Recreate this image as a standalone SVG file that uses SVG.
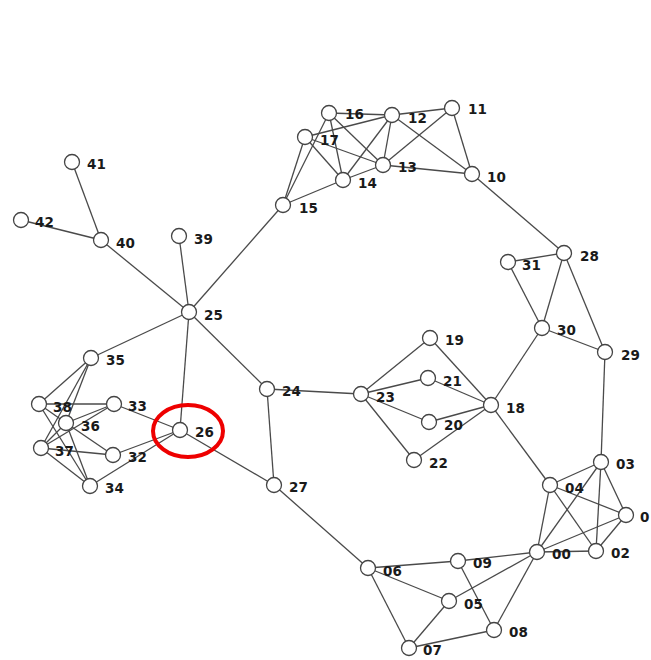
<svg xmlns="http://www.w3.org/2000/svg" width="651" height="660" viewBox="0 0 651 660">
<style>
.e line{stroke:#4a4a4a;stroke-width:1.3}
.n circle{fill:#fff;stroke:#444;stroke-width:1.3}
.n text{font-family:"DejaVu Sans",sans-serif;font-weight:bold;font-size:13.5px;fill:#1a1a1a}
</style>
<rect width="651" height="660" fill="#fff"/>
<g id="edges" class="e">
<line x1="329" y1="113" x2="392" y2="115"/>
<line x1="392" y1="115" x2="452" y2="108"/>
<line x1="329" y1="113" x2="283" y2="205"/>
<line x1="329" y1="113" x2="343" y2="180"/>
<line x1="329" y1="113" x2="383" y2="165"/>
<line x1="305" y1="137" x2="392" y2="115"/>
<line x1="305" y1="137" x2="383" y2="165"/>
<line x1="305" y1="137" x2="343" y2="180"/>
<line x1="305" y1="137" x2="283" y2="205"/>
<line x1="392" y1="115" x2="343" y2="180"/>
<line x1="392" y1="115" x2="383" y2="165"/>
<line x1="392" y1="115" x2="472" y2="174"/>
<line x1="452" y1="108" x2="383" y2="165"/>
<line x1="452" y1="108" x2="472" y2="174"/>
<line x1="383" y1="165" x2="472" y2="174"/>
<line x1="343" y1="180" x2="383" y2="165"/>
<line x1="343" y1="180" x2="283" y2="205"/>
<line x1="472" y1="174" x2="564" y2="253"/>
<line x1="283" y1="205" x2="189" y2="312"/>
<line x1="72" y1="162" x2="101" y2="240"/>
<line x1="21" y1="220" x2="101" y2="240"/>
<line x1="101" y1="240" x2="189" y2="312"/>
<line x1="179" y1="236" x2="189" y2="312"/>
<line x1="189" y1="312" x2="91" y2="358"/>
<line x1="189" y1="312" x2="267" y2="389"/>
<line x1="189" y1="312" x2="180" y2="430"/>
<line x1="267" y1="389" x2="361" y2="394"/>
<line x1="267" y1="389" x2="274" y2="485"/>
<line x1="180" y1="430" x2="274" y2="485"/>
<line x1="274" y1="485" x2="368" y2="568"/>
<line x1="361" y1="394" x2="430" y2="338"/>
<line x1="361" y1="394" x2="428" y2="378"/>
<line x1="361" y1="394" x2="429" y2="422"/>
<line x1="361" y1="394" x2="414" y2="460"/>
<line x1="430" y1="338" x2="491" y2="405"/>
<line x1="428" y1="378" x2="491" y2="405"/>
<line x1="429" y1="422" x2="491" y2="405"/>
<line x1="414" y1="460" x2="491" y2="405"/>
<line x1="491" y1="405" x2="542" y2="328"/>
<line x1="491" y1="405" x2="550" y2="485"/>
<line x1="542" y1="328" x2="508" y2="262"/>
<line x1="542" y1="328" x2="564" y2="253"/>
<line x1="542" y1="328" x2="605" y2="352"/>
<line x1="508" y1="262" x2="564" y2="253"/>
<line x1="564" y1="253" x2="605" y2="352"/>
<line x1="605" y1="352" x2="601" y2="462"/>
<line x1="601" y1="462" x2="550" y2="485"/>
<line x1="601" y1="462" x2="626" y2="515"/>
<line x1="601" y1="462" x2="596" y2="551"/>
<line x1="601" y1="462" x2="537" y2="552"/>
<line x1="550" y1="485" x2="626" y2="515"/>
<line x1="550" y1="485" x2="596" y2="551"/>
<line x1="550" y1="485" x2="537" y2="552"/>
<line x1="626" y1="515" x2="537" y2="552"/>
<line x1="626" y1="515" x2="596" y2="551"/>
<line x1="537" y1="552" x2="596" y2="551"/>
<line x1="537" y1="552" x2="458" y2="561"/>
<line x1="537" y1="552" x2="449" y2="601"/>
<line x1="537" y1="552" x2="494" y2="630"/>
<line x1="368" y1="568" x2="458" y2="561"/>
<line x1="368" y1="568" x2="449" y2="601"/>
<line x1="368" y1="568" x2="409" y2="648"/>
<line x1="458" y1="561" x2="494" y2="630"/>
<line x1="449" y1="601" x2="409" y2="648"/>
<line x1="409" y1="648" x2="494" y2="630"/>
<line x1="91" y1="358" x2="39" y2="404"/>
<line x1="91" y1="358" x2="66" y2="423"/>
<line x1="91" y1="358" x2="41" y2="448"/>
<line x1="39" y1="404" x2="114" y2="404"/>
<line x1="39" y1="404" x2="66" y2="423"/>
<line x1="39" y1="404" x2="90" y2="486"/>
<line x1="41" y1="448" x2="114" y2="404"/>
<line x1="41" y1="448" x2="66" y2="423"/>
<line x1="41" y1="448" x2="113" y2="455"/>
<line x1="41" y1="448" x2="90" y2="486"/>
<line x1="66" y1="423" x2="114" y2="404"/>
<line x1="66" y1="423" x2="113" y2="455"/>
<line x1="66" y1="423" x2="90" y2="486"/>
<line x1="114" y1="404" x2="180" y2="430"/>
<line x1="113" y1="455" x2="180" y2="430"/>
<line x1="90" y1="486" x2="180" y2="430"/>
</g>
<g class="n">
<g id="n16"><circle cx="329" cy="113" r="7.5"/><text x="345" y="119">16</text></g>
<g id="n12"><circle cx="392" cy="115" r="7.5"/><text x="408" y="123">12</text></g>
<g id="n11"><circle cx="452" cy="108" r="7.5"/><text x="468" y="114">11</text></g>
<g id="n17"><circle cx="305" cy="137" r="7.5"/><text x="320" y="145">17</text></g>
<g id="n13"><circle cx="383" cy="165" r="7.5"/><text x="398" y="172">13</text></g>
<g id="n14"><circle cx="343" cy="180" r="7.5"/><text x="358" y="188">14</text></g>
<g id="n10"><circle cx="472" cy="174" r="7.5"/><text x="487" y="182">10</text></g>
<g id="n15"><circle cx="283" cy="205" r="7.5"/><text x="299" y="213">15</text></g>
<g id="n41"><circle cx="72" cy="162" r="7.5"/><text x="87" y="169">41</text></g>
<g id="n42"><circle cx="21" cy="220" r="7.5"/><text x="35" y="227">42</text></g>
<g id="n40"><circle cx="101" cy="240" r="7.5"/><text x="116" y="248">40</text></g>
<g id="n39"><circle cx="179" cy="236" r="7.5"/><text x="194" y="244">39</text></g>
<g id="n25"><circle cx="189" cy="312" r="7.5"/><text x="204" y="320">25</text></g>
<g id="n28"><circle cx="564" cy="253" r="7.5"/><text x="580" y="261">28</text></g>
<g id="n31"><circle cx="508" cy="262" r="7.5"/><text x="522" y="270">31</text></g>
<g id="n30"><circle cx="542" cy="328" r="7.5"/><text x="557" y="335">30</text></g>
<g id="n29"><circle cx="605" cy="352" r="7.5"/><text x="621" y="360">29</text></g>
<g id="n19"><circle cx="430" cy="338" r="7.5"/><text x="445" y="345">19</text></g>
<g id="n35"><circle cx="91" cy="358" r="7.5"/><text x="106" y="365">35</text></g>
<g id="n24"><circle cx="267" cy="389" r="7.5"/><text x="282" y="396">24</text></g>
<g id="n23"><circle cx="361" cy="394" r="7.5"/><text x="376" y="402">23</text></g>
<g id="n21"><circle cx="428" cy="378" r="7.5"/><text x="443" y="386">21</text></g>
<g id="n18"><circle cx="491" cy="405" r="7.5"/><text x="506" y="413">18</text></g>
<g id="n20"><circle cx="429" cy="422" r="7.5"/><text x="444" y="430">20</text></g>
<g id="n22"><circle cx="414" cy="460" r="7.5"/><text x="429" y="468">22</text></g>
<g id="n38"><circle cx="39" cy="404" r="7.5"/><text x="53" y="412">38</text></g>
<g id="n33"><circle cx="114" cy="404" r="7.5"/><text x="128" y="411">33</text></g>
<g id="n36"><circle cx="66" cy="423" r="7.5"/><text x="81" y="431">36</text></g>
<g id="n26"><circle cx="180" cy="430" r="7.5"/><text x="195" y="437">26</text></g>
<g id="n37"><circle cx="41" cy="448" r="7.5"/><text x="55" y="456">37</text></g>
<g id="n32"><circle cx="113" cy="455" r="7.5"/><text x="128" y="462">32</text></g>
<g id="n34"><circle cx="90" cy="486" r="7.5"/><text x="105" y="493">34</text></g>
<g id="n27"><circle cx="274" cy="485" r="7.5"/><text x="289" y="492">27</text></g>
<g id="n03"><circle cx="601" cy="462" r="7.5"/><text x="616" y="469">03</text></g>
<g id="n04"><circle cx="550" cy="485" r="7.5"/><text x="565" y="493">04</text></g>
<g id="n01"><circle cx="626" cy="515" r="7.5"/><text x="640" y="522">0</text></g>
<g id="n00"><circle cx="537" cy="552" r="7.5"/><text x="552" y="559">00</text></g>
<g id="n02"><circle cx="596" cy="551" r="7.5"/><text x="611" y="558">02</text></g>
<g id="n09"><circle cx="458" cy="561" r="7.5"/><text x="473" y="568">09</text></g>
<g id="n06"><circle cx="368" cy="568" r="7.5"/><text x="383" y="576">06</text></g>
<g id="n05"><circle cx="449" cy="601" r="7.5"/><text x="464" y="609">05</text></g>
<g id="n08"><circle cx="494" cy="630" r="7.5"/><text x="509" y="637">08</text></g>
<g id="n07"><circle cx="409" cy="648" r="7.5"/><text x="423" y="655">07</text></g>
</g>
<ellipse cx="188" cy="431" rx="35" ry="26" fill="none" stroke="#e00" stroke-width="4"/>
</svg>
